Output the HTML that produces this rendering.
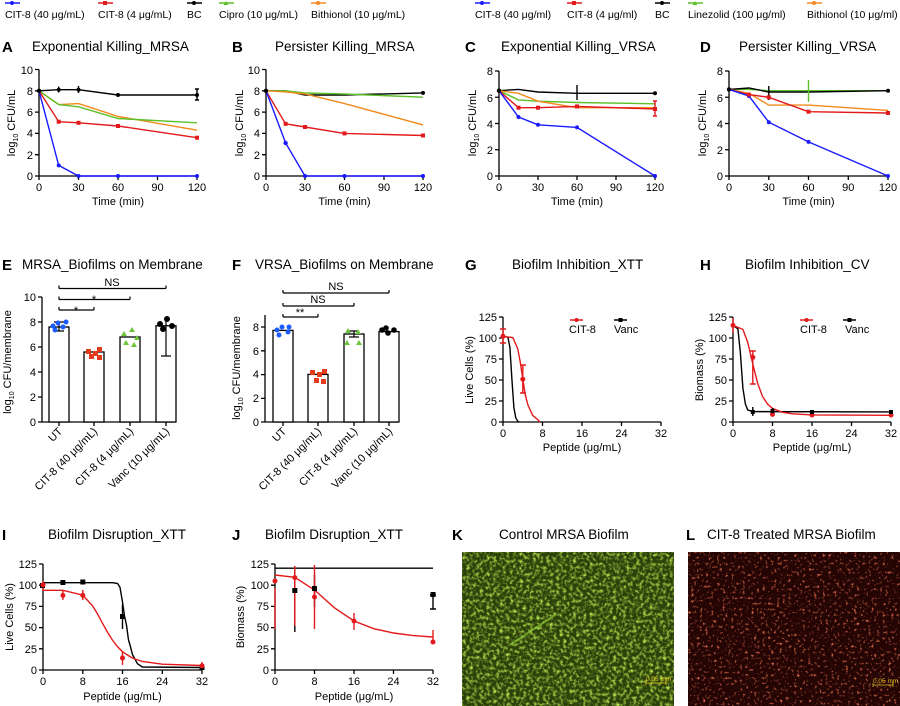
<!DOCTYPE html>
<html><head><meta charset="utf-8"><style>
html,body{margin:0;padding:0;background:#fff}
svg{display:block;font-family:"Liberation Sans",Arial,sans-serif}
.t{font-size:13.5px}
.L{font-size:15px;font-weight:bold}
.k{font-size:11px}
.g{font-size:10.5px}
.ax{stroke:#000;stroke-width:1.3;fill:none}
</style></head><body>
<svg width="900" height="706" viewBox="0 0 900 706" xmlns="http://www.w3.org/2000/svg">
<defs>
<filter id="ng" x="0" y="0" width="100%" height="100%">
<feTurbulence type="fractalNoise" baseFrequency="0.3" numOctaves="2" seed="3"/>
<feColorMatrix type="matrix" values="0 0 0 0 0.5  0 0 0 0 0.82  0 0 0 0 0.08  0 0 0 -2.4 1.35"/>
</filter>
<filter id="nr" x="0" y="0" width="100%" height="100%">
<feTurbulence type="fractalNoise" baseFrequency="0.35" numOctaves="2" seed="7"/>
<feColorMatrix type="matrix" values="0 0 0 0 0.9  0 0 0 0 0.18  0 0 0 0 0.08  0 0 0 -3.5 1.45"/>
</filter>
</defs>

<!-- top legends -->
<g class="g">
<line x1="5" y1="3" x2="20" y2="3" stroke="#1a1aff" stroke-width="1.5"/><circle cx="12" cy="3" r="2" fill="#1a1aff"/>
<text x="5" y="18">CIT-8 (40 μg/mL)</text>
<line x1="98" y1="3" x2="113" y2="3" stroke="#e31a1c" stroke-width="1.5"/><rect x="103" y="1" width="4" height="4" fill="#e31a1c"/>
<text x="98" y="18">CIT-8 (4 μg/mL)</text>
<line x1="187" y1="3" x2="202" y2="3" stroke="#000" stroke-width="1.5"/><circle cx="194" cy="3" r="2"/>
<text x="187" y="18">BC</text>
<line x1="219" y1="3" x2="234" y2="3" stroke="#5cc02a" stroke-width="1.5"/><path d="M226,1 l2.5,4 h-5z" fill="#5cc02a"/>
<text x="219" y="18">Cipro (10 μg/mL)</text>
<line x1="311" y1="3" x2="326" y2="3" stroke="#f28a1e" stroke-width="1.5"/><circle cx="318" cy="3" r="2" fill="#f28a1e"/>
<text x="311" y="18">Bithionol (10 μg/mL)</text>

<line x1="475" y1="3" x2="490" y2="3" stroke="#1a1aff" stroke-width="1.5"/><circle cx="482" cy="3" r="2" fill="#1a1aff"/>
<text x="475" y="18">CIT-8 (40 μg/ml)</text>
<line x1="567" y1="3" x2="582" y2="3" stroke="#e31a1c" stroke-width="1.5"/><rect x="572" y="1" width="4" height="4" fill="#e31a1c"/>
<text x="567" y="18">CIT-8 (4 μg/ml)</text>
<line x1="655" y1="3" x2="670" y2="3" stroke="#000" stroke-width="1.5"/><circle cx="662" cy="3" r="2"/>
<text x="655" y="18">BC</text>
<line x1="688" y1="3" x2="703" y2="3" stroke="#5cc02a" stroke-width="1.5"/><path d="M695,1 l2.5,4 h-5z" fill="#5cc02a"/>
<text x="688" y="18">Linezolid (100 μg/ml)</text>
<line x1="807" y1="3" x2="822" y2="3" stroke="#f28a1e" stroke-width="1.5"/><circle cx="814" cy="3" r="2" fill="#f28a1e"/>
<text x="807" y="18">Bithionol (10 μg/ml)</text>
</g>

<!-- ===== Panel A ===== -->
<text class="L" x="2" y="52">A</text><text class="t" x="32" y="51">Exponential Killing_MRSA</text>
<g class="k" text-anchor="end">
<text x="33" y="180">0</text><text x="33" y="159">2</text><text x="33" y="137">4</text><text x="33" y="116">6</text><text x="33" y="95">8</text><text x="33" y="74">10</text>
</g>
<path class="ax" d="M39,69.5V176H197M35,69.5h4M35,90.8h4M35,112.1h4M35,133.4h4M35,154.7h4M35,176h4M39,176v4M78.5,176v4M118,176v4M157.5,176v4M197,176v4"/>
<g class="k" text-anchor="middle"><text x="39" y="191">0</text><text x="78.5" y="191">30</text><text x="118" y="191">60</text><text x="157.5" y="191">90</text><text x="197" y="191">120</text>
<text x="118" y="205">Time (min)</text></g>
<text class="k" transform="translate(15,123) rotate(-90)" text-anchor="middle">log<tspan font-size="7" dy="3">10</tspan><tspan dy="-3"> CFU/mL</tspan></text>
<g fill="none" stroke-width="1.4">
<polyline stroke="#000" points="39,90.8 58.7,89.7 78.5,89.7 118,95 197,95"/>
<polyline stroke="#f28a1e" points="39,90.8 58.7,104.6 78.5,103.6 118,116.4 197,130.2"/>
<polyline stroke="#5cc02a" points="39,90.8 58.7,104.6 78.5,106.8 118,118.5 197,122.8"/>
<polyline stroke="#e31a1c" points="39,90.8 58.7,121.7 78.5,122.8 118,126 197,137.7"/>
<polyline stroke="#1a1aff" points="39,90.8 58.7,165.4 78.5,176 118,176 197,176"/>
<path stroke="#000" d="M197,89v11M195,89h4M195,100h4M78.5,86v7M58.7,86.5v6"/>
</g>
<g fill="#1a1aff"><circle cx="58.7" cy="165.4" r="2"/><circle cx="78.5" cy="176" r="2"/><circle cx="118" cy="176" r="2"/><circle cx="197" cy="176" r="2"/></g>
<g fill="#e31a1c"><rect x="56.7" y="119.7" width="4" height="4"/><rect x="76.5" y="120.8" width="4" height="4"/><rect x="116" y="124" width="4" height="4"/><rect x="195" y="135.7" width="4" height="4"/></g>
<g fill="#000"><circle cx="39" cy="90.8" r="2.2"/><circle cx="58.7" cy="89.7" r="2"/><circle cx="78.5" cy="89.7" r="2"/><circle cx="118" cy="95" r="2"/><circle cx="197" cy="95" r="2"/></g>

<!-- ===== Panel B ===== -->
<text class="L" x="232" y="52">B</text><text class="t" x="275" y="51">Persister Killing_MRSA</text>
<g class="k" text-anchor="end">
<text x="260" y="180">0</text><text x="260" y="159">2</text><text x="260" y="137">4</text><text x="260" y="116">6</text><text x="260" y="95">8</text><text x="260" y="74">10</text>
</g>
<path class="ax" d="M266,69.5V176H423M262,69.5h4M262,90.8h4M262,112.1h4M262,133.4h4M262,154.7h4M262,176h4M266,176v4M305,176v4M344.5,176v4M384,176v4M423,176v4"/>
<g class="k" text-anchor="middle"><text x="266" y="191">0</text><text x="305" y="191">30</text><text x="344.5" y="191">60</text><text x="384" y="191">90</text><text x="423" y="191">120</text>
<text x="344.5" y="205">Time (min)</text></g>
<text class="k" transform="translate(243,123) rotate(-90)" text-anchor="middle">log<tspan font-size="7" dy="3">10</tspan><tspan dy="-3"> CFU/mL</tspan></text>
<g fill="none" stroke-width="1.4">
<polyline stroke="#000" points="266,90.8 285.6,90.8 305,95 344.5,95 423,92.9"/>
<polyline stroke="#5cc02a" points="266,90.8 285.6,90.8 305,93 344.5,94 423,97.2"/>
<polyline stroke="#f28a1e" points="266,90.8 285.6,91.9 305,94 344.5,103.6 423,124.9"/>
<polyline stroke="#e31a1c" points="266,90.8 285.6,123.8 305,127 344.5,133.4 423,135.5"/>
<polyline stroke="#1a1aff" points="266,90.8 285.6,143 305,176 344.5,176 423,176"/>
</g>
<g fill="#1a1aff"><circle cx="285.6" cy="143" r="2.2"/><circle cx="305" cy="176" r="2"/><circle cx="344.5" cy="176" r="2"/><circle cx="423" cy="176" r="2"/></g>
<g fill="#e31a1c"><rect x="283.6" y="121.8" width="4" height="4"/><rect x="303" y="125" width="4" height="4"/><rect x="342.5" y="131.4" width="4" height="4"/><rect x="421" y="133.5" width="4" height="4"/></g>
<g fill="#000"><circle cx="266" cy="90.8" r="2.2"/><circle cx="423" cy="92.9" r="2"/></g>

<!-- ===== Panel C ===== -->
<text class="L" x="465" y="52">C</text><text class="t" x="501" y="51">Exponential Killing_VRSA</text>
<g class="k" text-anchor="end">
<text x="493" y="180">0</text><text x="493" y="154">2</text><text x="493" y="128">4</text><text x="493" y="102">6</text><text x="493" y="75">8</text>
</g>
<path class="ax" d="M499,71V176H655M495,71h4M495,97.25h4M495,123.5h4M495,149.75h4M495,176h4M499,176v4M538,176v4M577,176v4M616,176v4M655,176v4"/>
<g class="k" text-anchor="middle"><text x="499" y="191">0</text><text x="538" y="191">30</text><text x="577" y="191">60</text><text x="616" y="191">90</text><text x="655" y="191">120</text>
<text x="577" y="205">Time (min)</text></g>
<text class="k" transform="translate(476,123) rotate(-90)" text-anchor="middle">log<tspan font-size="7" dy="3">10</tspan><tspan dy="-3"> CFU/mL</tspan></text>
<g fill="none" stroke-width="1.4">
<polyline stroke="#000" points="499,90.7 518.5,89.4 538,92 577,93.3 655,93.3"/>
<polyline stroke="#5cc02a" points="499,90.7 518.5,99.9 538,101.2 577,102.5 655,103.8"/>
<polyline stroke="#f28a1e" points="499,90.7 518.5,93.3 538,101.2 577,107.7 655,107.7"/>
<polyline stroke="#e31a1c" points="499,90.7 518.5,107.7 538,107.7 577,106.4 655,109"/>
<polyline stroke="#1a1aff" points="499,90.7 518.5,117 538,124.8 577,127.4 655,176"/>
<path stroke="#e31a1c" d="M655,101v15M653,101h4M653,116h4"/><path stroke="#000" d="M577,85v15"/>
</g>
<g fill="#1a1aff"><circle cx="518.5" cy="117" r="2"/><circle cx="538" cy="124.8" r="2"/><circle cx="577" cy="127.4" r="2"/><circle cx="655" cy="176" r="2"/></g>
<g fill="#e31a1c"><rect x="516.5" y="105.7" width="4" height="4"/><rect x="536" y="105.7" width="4" height="4"/><rect x="575" y="104.4" width="4" height="4"/><rect x="653" y="107" width="4" height="4"/></g>
<g fill="#000"><circle cx="499" cy="90.7" r="2.2"/><circle cx="655" cy="93.3" r="2"/></g>

<!-- ===== Panel D ===== -->
<text class="L" x="700" y="52">D</text><text class="t" x="739" y="51">Persister Killing_VRSA</text>
<g class="k" text-anchor="end">
<text x="723" y="180">0</text><text x="723" y="154">2</text><text x="723" y="128">4</text><text x="723" y="102">6</text><text x="723" y="75">8</text>
</g>
<path class="ax" d="M729,71V176H888M725,71h4M725,97.25h4M725,123.5h4M725,149.75h4M725,176h4M729,176v4M768.8,176v4M808.5,176v4M848.3,176v4M888,176v4"/>
<g class="k" text-anchor="middle"><text x="729" y="191">0</text><text x="768.8" y="191">30</text><text x="808.5" y="191">60</text><text x="848.3" y="191">90</text><text x="888" y="191">120</text>
<text x="808.5" y="205">Time (min)</text></g>
<text class="k" transform="translate(706,123) rotate(-90)" text-anchor="middle">log<tspan font-size="7" dy="3">10</tspan><tspan dy="-3"> CFU/mL</tspan></text>
<g fill="none" stroke-width="1.4">
<polyline stroke="#5cc02a" points="729,89.4 748.9,89.4 768.8,90.7 808.5,90.7 888,90.7"/>
<polyline stroke="#000" points="729,89.4 748.9,88 768.8,92 808.5,92 888,90.7"/>
<polyline stroke="#f28a1e" points="729,89.4 748.9,93.3 768.8,105.1 808.5,105.1 888,110.4"/>
<polyline stroke="#e31a1c" points="729,89.4 748.9,94.6 768.8,97.3 808.5,111.7 888,113"/>
<polyline stroke="#1a1aff" points="729,89.4 748.9,96 768.8,122.2 808.5,141.9 888,176"/>
<path stroke="#5cc02a" d="M808.5,80v22"/><path stroke="#000" d="M768.8,86v14"/>
</g>
<g fill="#1a1aff"><circle cx="748.9" cy="96" r="2"/><circle cx="768.8" cy="122.2" r="2"/><circle cx="808.5" cy="141.9" r="2"/><circle cx="888" cy="176" r="2"/></g>
<g fill="#e31a1c"><rect x="746.9" y="92.6" width="4" height="4"/><rect x="766.8" y="95.3" width="4" height="4"/><rect x="806.5" y="109.7" width="4" height="4"/><rect x="886" y="111" width="4" height="4"/></g>
<g fill="#000"><circle cx="729" cy="89.4" r="2.2"/><circle cx="888" cy="90.7" r="2"/></g>

<!-- ===== Panel E ===== -->
<text class="L" x="2" y="270">E</text><text class="t" x="22" y="269">MRSA_Biofilms on Membrane</text>
<g class="k" text-anchor="end">
<text x="36" y="426">0</text><text x="36" y="401">2</text><text x="36" y="376">4</text><text x="36" y="351">6</text><text x="36" y="326">8</text><text x="36" y="301">10</text>
</g>
<path class="ax" d="M42,297V422H175M38,297h4M38,322h4M38,347h4M38,372h4M38,397h4M38,422h4M59,422v4M94,422v4M130,422v4M166,422v4"/>
<g fill="#fff" stroke="#000" stroke-width="1.3">
<rect x="49" y="327" width="20" height="95"/><rect x="84" y="352" width="20" height="70"/><rect x="120" y="337" width="20" height="85"/><rect x="156" y="325.75" width="20" height="96.25"/>
</g>
<g fill="none" stroke="#000" stroke-width="1.2">
<path d="M59,322v9M54,322h10M54,331h10M166,320v36M161,356h10"/>
<path d="M59,288.5h107M59,288.5v-3M166,288.5v-3M59,299.5h71M59,299.5v-3M130,299.5v-3M59,310h35M59,310v-3M94,310v-3"/>
</g>
<g fill="#1a5cff"><circle cx="53" cy="326" r="2.5"/><circle cx="58" cy="323" r="2.5"/><circle cx="63" cy="327" r="2.5"/><circle cx="66" cy="322" r="2.5"/><circle cx="55" cy="330" r="2.5"/></g>
<g fill="#e33a1c"><rect x="86" y="349" width="5" height="5"/><rect x="93" y="351" width="5" height="5"/><rect x="97" y="347" width="5" height="5"/><rect x="89" y="354" width="5" height="5"/><rect x="97" y="355" width="5" height="5"/></g>
<g fill="#6cc43a"><path d="M124,331l3,5h-6z"/><path d="M132,327l3,5h-6z"/><path d="M137,335l3,5h-6z"/><path d="M126,340l3,5h-6z"/><path d="M134,342l3,5h-6z"/></g>
<g fill="#000"><circle cx="160" cy="324" r="3"/><circle cx="167" cy="319" r="3"/><circle cx="172" cy="326" r="3"/><circle cx="163" cy="329" r="3"/></g>
<g class="k" text-anchor="middle"><text x="112" y="286">NS</text><text x="94" y="303">*</text><text x="76" y="314">*</text></g>
<text class="k" transform="translate(11,362) rotate(-90)" text-anchor="middle">log<tspan font-size="7" dy="3">10</tspan><tspan dy="-3"> CFU/membrane</tspan></text>
<g class="k" text-anchor="end">
<text transform="translate(63,432) rotate(-45)">UT</text>
<text transform="translate(98,432) rotate(-45)">CIT-8 (40 μg/mL)</text>
<text transform="translate(134,432) rotate(-45)">CIT-8 (4 μg/mL)</text>
<text transform="translate(170,432) rotate(-45)">Vanc (10 μg/mL)</text>
</g>

<!-- ===== Panel F ===== -->
<text class="L" x="232" y="270">F</text><text class="t" x="255" y="269">VRSA_Biofilms on Membrane</text>
<g class="k" text-anchor="end">
<text x="259" y="426">0</text><text x="259" y="402">2</text><text x="259" y="378">4</text><text x="259" y="355">6</text><text x="259" y="331">8</text>
</g>
<path class="ax" d="M265,315V422H398M261,327h4M261,350.8h4M261,374.6h4M261,398.4h4M261,422h4M283,422v4M318,422v4M354,422v4M389,422v4"/>
<g fill="#fff" stroke="#000" stroke-width="1.3">
<rect x="273" y="330.4" width="20" height="91.6"/><rect x="308" y="374.4" width="20" height="47.6"/><rect x="344" y="334" width="20" height="88"/><rect x="379" y="331.6" width="20" height="90.4"/>
</g>
<g fill="none" stroke="#000" stroke-width="1.2">
<path d="M283,293h106M283,293v-3M389,293v-3M283,306h71M283,306v-3M354,306v-3M283,317h35M283,317v-3M318,317v-3M354,331v6M349,331h10M349,337h10"/>
</g>
<g fill="#1a5cff"><circle cx="277" cy="330" r="2.5"/><circle cx="282" cy="327" r="2.5"/><circle cx="288" cy="332" r="2.5"/><circle cx="279" cy="335" r="2.5"/><circle cx="289" cy="327" r="2.5"/></g>
<g fill="#e33a1c"><rect x="310" y="370" width="5" height="5"/><rect x="317" y="372" width="5" height="5"/><rect x="322" y="369" width="5" height="5"/><rect x="314" y="378" width="5" height="5"/><rect x="321" y="379" width="5" height="5"/></g>
<g fill="#6cc43a"><path d="M348,328l3,5h-6z"/><path d="M358,329l3,5h-6z"/><path d="M347,340l3,5h-6z"/><path d="M359,340l3,5h-6z"/></g>
<g fill="#000"><circle cx="382" cy="330" r="2.8"/><circle cx="388" cy="333" r="2.8"/><circle cx="394" cy="330" r="2.8"/><circle cx="386" cy="328" r="2.8"/></g>
<g class="k" text-anchor="middle"><text x="336" y="290">NS</text><text x="318" y="303">NS</text><text x="300" y="316">**</text></g>
<text class="k" transform="translate(240,368) rotate(-90)" text-anchor="middle">log<tspan font-size="7" dy="3">10</tspan><tspan dy="-3"> CFU/membrane</tspan></text>
<g class="k" text-anchor="end">
<text transform="translate(287,432) rotate(-45)">UT</text>
<text transform="translate(322,432) rotate(-45)">CIT-8 (40 μg/mL)</text>
<text transform="translate(358,432) rotate(-45)">CIT-8 (4 μg/mL)</text>
<text transform="translate(393,432) rotate(-45)">Vanc (10 μg/mL)</text>
</g>

<!-- ===== Panel G ===== -->
<text class="L" x="465" y="270">G</text><text class="t" x="512" y="269">Biofilm Inhibition_XTT</text>
<g class="k" text-anchor="end">
<text x="497" y="426">0</text><text x="497" y="405">25</text><text x="497" y="384">50</text><text x="497" y="363">75</text><text x="497" y="342">100</text><text x="497" y="321">125</text>
</g>
<path class="ax" d="M503,317V422H661M499,317h4M499,338h4M499,359h4M499,380h4M499,401h4M499,422h4M503,422v4M542.5,422v4M582,422v4M621.5,422v4M661,422v4"/>
<g class="k" text-anchor="middle"><text x="503" y="437">0</text><text x="542.5" y="437">8</text><text x="582" y="437">16</text><text x="621.5" y="437">24</text><text x="661" y="437">32</text>
<text x="582" y="451">Peptide (μg/mL)</text></g>
<text class="k" transform="translate(473,370) rotate(-90)" text-anchor="middle">Live Cells (%)</text>
<g fill="none" stroke-width="1.4">
<polyline stroke="#000" points="503,336.3 507.9,337.2 509.9,347.2 511.9,379.2 513.9,407.7 515.8,417.8 517.8,421.2 519,422"/>
<polyline stroke="#e31a1c" points="503,336.3 512.9,337.7 517.8,348.9 520.3,362.4 522.8,379.2 525.2,394.3 527.7,404.4 532.6,415.3 537.6,419.5 540,422"/>
<path stroke="#e31a1c" d="M503,329v14M500,329h6M500,343h6M522.8,365v28M520,365h6M520,393h6"/>
</g>
<circle cx="503" cy="336.3" r="2.5" fill="#e31a1c"/><circle cx="522.8" cy="379.2" r="2.5" fill="#e31a1c"/>
<g class="k"><line x1="570" y1="320" x2="583" y2="320" stroke="#e31a1c" stroke-width="1.5"/><circle cx="576.5" cy="320" r="2" fill="#e31a1c"/><text x="569" y="333">CIT-8</text>
<line x1="614" y1="320" x2="627" y2="320" stroke="#000" stroke-width="1.5"/><rect x="618.5" y="318" width="4" height="4"/><text x="614" y="333">Vanc</text></g>

<!-- ===== Panel H ===== -->
<text class="L" x="700" y="270">H</text><text class="t" x="745" y="269">Biofilm Inhibition_CV</text>
<g class="k" text-anchor="end">
<text x="727" y="426">0</text><text x="727" y="405">25</text><text x="727" y="384">50</text><text x="727" y="363">75</text><text x="727" y="342">100</text><text x="727" y="321">125</text>
</g>
<path class="ax" d="M733,317V422H891M729,317h4M729,338h4M729,359h4M729,380h4M729,401h4M729,422h4M733,422v4M772.5,422v4M812,422v4M851.5,422v4M891,422v4"/>
<g class="k" text-anchor="middle"><text x="733" y="437">0</text><text x="772.5" y="437">8</text><text x="812" y="437">16</text><text x="851.5" y="437">24</text><text x="891" y="437">32</text>
<text x="812" y="451">Peptide (μg/mL)</text></g>
<text class="k" transform="translate(703,370) rotate(-90)" text-anchor="middle">Biomass (%)</text>
<g fill="none" stroke-width="1.4">
<polyline stroke="#000" points="733,325.4 737.9,328.8 740.4,353.1 742.9,388.2 745.4,404.1 747.8,410 752.8,411.6 891,411.9"/>
<polyline stroke="#e31a1c" points="733,325.4 742.9,329.4 747.8,342.6 752.8,363.9 757.7,383.5 762.6,396.5 767.6,404.1 772.5,408.4 782.4,412.3 792.3,413.8 812,414.9 891,415.3"/>
<path stroke="#e31a1c" d="M733,318v15M752.8,351v33M749.8,351h6M749.8,384h6"/>
<path stroke="#000" d="M752.8,407v9M772.5,408v7"/>
</g>
<g fill="#e31a1c"><circle cx="733" cy="325.4" r="2.5"/><circle cx="752.8" cy="357.3" r="2.5"/><circle cx="772.5" cy="414.4" r="2.5"/><circle cx="812" cy="415" r="2.5"/><circle cx="891" cy="415" r="2.5"/></g>
<g fill="#000"><rect x="750.8" y="410" width="4" height="4"/><rect x="770.5" y="409" width="4" height="4"/><rect x="810" y="410" width="4" height="4"/><rect x="889" y="410" width="4" height="4"/></g>
<g class="k"><line x1="800" y1="320" x2="813" y2="320" stroke="#e31a1c" stroke-width="1.5"/><circle cx="806.5" cy="320" r="2" fill="#e31a1c"/><text x="800" y="333">CIT-8</text>
<line x1="843" y1="320" x2="856" y2="320" stroke="#000" stroke-width="1.5"/><rect x="847.5" y="318" width="4" height="4"/><text x="845" y="333">Vanc</text></g>

<!-- ===== Panel I ===== -->
<text class="L" x="2" y="540">I</text><text class="t" x="48" y="539">Biofilm Disruption_XTT</text>
<g class="k" text-anchor="end">
<text x="37" y="674">0</text><text x="37" y="653">25</text><text x="37" y="631">50</text><text x="37" y="610">75</text><text x="37" y="589">100</text><text x="37" y="568">125</text>
</g>
<path class="ax" d="M43,564V670H202M39,564h4M39,585.2h4M39,606.4h4M39,627.6h4M39,648.8h4M39,670h4M43,670v4M82.8,670v4M122.5,670v4M162.3,670v4M202,670v4"/>
<g class="k" text-anchor="middle"><text x="43" y="685">0</text><text x="82.8" y="685">8</text><text x="122.5" y="685">16</text><text x="162.3" y="685">24</text><text x="202" y="685">32</text>
<text x="122.5" y="700">Peptide (μg/mL)</text></g>
<text class="k" transform="translate(13,617) rotate(-90)" text-anchor="middle">Live Cells (%)</text>
<g fill="none" stroke-width="1.4">
<polyline stroke="#000" points="43,582.7 112.6,582.7 117.6,583.5 120,587.4 122.5,602 124.5,616 126.5,625.1 128.5,640 130,645 132.5,654.6 137.4,663.7 142.4,667 202,667.5"/>
<polyline stroke="#e31a1c" points="43,590.3 62.9,590.3 82.8,595.1 92.7,606 97.7,614.2 102.6,623.4 107.6,632.4 112.6,640.4 117.6,646.8 122.5,651.8 132.5,658.1 142.4,661.5 162.3,664.2 202,665.5"/>
<path stroke="#e31a1c" d="M43,581v10M62.9,590v10M82.8,590v10M122.5,651v14M202,662v8"/>
<path stroke="#000" d="M122.5,604v25"/>
</g>
<g fill="#000"><rect x="40" y="583" width="5" height="5"/><rect x="60.4" y="580" width="5" height="5"/><rect x="80.3" y="579.5" width="5" height="5"/><rect x="120" y="614" width="5" height="5"/><rect x="199.5" y="665" width="5" height="5"/></g>
<g fill="#e31a1c"><circle cx="43" cy="585" r="2.5"/><circle cx="62.9" cy="595.4" r="2.5"/><circle cx="82.8" cy="595.4" r="2.5"/><circle cx="122.5" cy="658" r="2.5"/><circle cx="202" cy="665.8" r="2.5"/></g>

<!-- ===== Panel J ===== -->
<text class="L" x="232" y="540">J</text><text class="t" x="265" y="539">Biofilm Disruption_XTT</text>
<g class="k" text-anchor="end">
<text x="269" y="674">0</text><text x="269" y="653">25</text><text x="269" y="631">50</text><text x="269" y="610">75</text><text x="269" y="589">100</text><text x="269" y="568">125</text>
</g>
<path class="ax" d="M275,564V670H433M271,564h4M271,585.2h4M271,606.4h4M271,627.6h4M271,648.8h4M271,670h4M275,670v4M314.5,670v4M354,670v4M393.5,670v4M433,670v4"/>
<g class="k" text-anchor="middle"><text x="275" y="685">0</text><text x="314.5" y="685">8</text><text x="354" y="685">16</text><text x="393.5" y="685">24</text><text x="433" y="685">32</text>
<text x="354" y="700">Peptide (μg/mL)</text></g>
<text class="k" transform="translate(244,617) rotate(-90)" text-anchor="middle">Biomass (%)</text>
<g fill="none" stroke-width="1.4">
<line x1="275" y1="568.2" x2="433" y2="568.2" stroke="#000"/>
<polyline stroke="#e31a1c" points="275,575 294.8,577.3 314.5,590 334.3,607.7 354,621 373.8,628.7 393.6,633 413.3,635.6 433,637"/>
<path stroke="#000" d="M294.8,570v62M314.5,575v32M433,595v14M430,595h6M430,609h6"/>
<path stroke="#e31a1c" d="M275,588v41M294.8,566v60M314.5,565v64M354,613v17M433,630v11"/>
</g>
<g fill="#000"><rect x="292.3" y="588" width="5" height="5"/><rect x="312" y="586" width="5" height="5"/><rect x="430.5" y="592" width="5" height="5"/></g>
<g fill="#e31a1c"><circle cx="275" cy="581" r="2.5"/><circle cx="294.8" cy="577.6" r="2.5"/><circle cx="314.5" cy="597" r="2.5"/><circle cx="354" cy="621" r="2.5"/><circle cx="433" cy="642" r="2.5"/></g>

<!-- ===== Panel K ===== -->
<text class="L" x="452" y="540">K</text><text class="t" x="499" y="539">Control MRSA Biofilm</text>
<rect x="462" y="552" width="212" height="154" fill="#2c400a"/>
<rect x="462" y="552" width="212" height="154" filter="url(#ng)"/>
<line x1="510" y1="645" x2="555" y2="615" stroke="#9ae040" stroke-width="2" opacity="0.6"/>
<g fill="#e0c020" font-size="6.5"><text x="646" y="681">0.05 mm</text></g>
<path d="M646,683h20M646,681v4M666,681v4" stroke="#e0c020" stroke-width="0.8"/>

<!-- ===== Panel L ===== -->
<text class="L" x="686" y="540">L</text><text class="t" x="707" y="539">CIT-8 Treated MRSA Biofilm</text>
<rect x="688" y="552" width="212" height="154" fill="#240504"/>
<rect x="688" y="552" width="212" height="154" filter="url(#nr)"/>
<g fill="#e0c020" font-size="6.5"><text x="873" y="683">0.05 mm</text></g>
<path d="M873,685h20M873,683v4M893,683v4" stroke="#e0c020" stroke-width="0.8"/>
</svg>
</body></html>
